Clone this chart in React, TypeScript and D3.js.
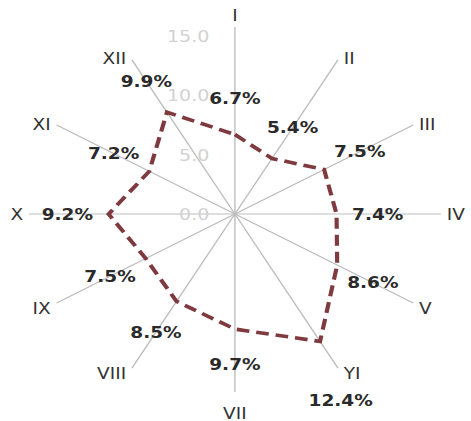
import React from 'react';
import * as d3 from 'd3';

// axis names as printed in the source (note "YI")
const axes = ['I', 'II', 'III', 'IV', 'V', 'YI', 'VII', 'VIII', 'IX', 'X', 'XI', 'XII'];
const values = [6.7, 5.4, 7.5, 7.4, 8.6, 12.4, 9.7, 8.5, 7.5, 9.2, 7.2, 9.9];
const gridTicks = [0, 5, 10, 15];

const W = 471;
const H = 421;
// the source image is stretched horizontally, so draw in a narrower box and let it stretch
const VW = 407;
const cx = 203;
const cy = 214;

export default function App() {
  const r = d3.scaleLinear().domain([0, 15]).range([0, 178]);
  const angle = d3.scaleLinear().domain([0, axes.length]).range([0, 2 * Math.PI]);

  const pt = (i: number, v: number) => {
    const a = angle(i);
    return [cx + r(v) * Math.sin(a), cy - r(v) * Math.cos(a)];
  };

  const line = d3.lineRadial<number>()
    .angle((_, i) => angle(i))
    .radius(d => r(d))
    .curve(d3.curveLinearClosed);

  const font = "'DejaVu Sans', Verdana, sans-serif";

  return (
    <svg
      width={W}
      height={H}
      viewBox={`0 0 ${VW} ${H}`}
      preserveAspectRatio="none"
      style={{ position: 'absolute', left: 0, top: 0, background: '#fff' }}
    >
      {/* spokes */}
      {axes.map((name, i) => {
        const [x, y] = pt(i, i === 0 ? 15.75 : 15);
        return <line key={name} x1={cx} y1={cy} x2={x} y2={y} stroke="#bdbdbd" strokeWidth={1.2} />;
      })}

      {/* scale labels */}
      {gridTicks.map(t => (
        <text
          key={t}
          x={cx - 22}
          y={cy - r(t)}
          textAnchor="end"
          dominantBaseline="central"
          fontFamily={font}
          fontSize={16.5}
          fill="#d2d2d2"
        >
          {t.toFixed(1)}
        </text>
      ))}

      {/* series */}
      <path
        d={line(values) || ''}
        transform={`translate(${cx},${cy})`}
        fill="none"
        stroke="#7f3a40"
        strokeWidth={3.6}
        strokeDasharray="11,6"
        strokeLinejoin="miter"
      />

      {/* axis labels */}
      {axes.map((name, i) => {
        const a = angle(i);
        const s = Math.sin(a);
        const c = Math.cos(a);
        const [x, y] = pt(i, 15);
        let anchor = 'middle';
        let tx = x;
        let ty = y;
        if (Math.abs(s) < 1e-6) {
          ty = y - Math.sign(c) * 21;
        } else {
          anchor = s > 0 ? 'start' : 'end';
          tx = x + Math.sign(s) * 5;
          ty = y + (Math.abs(c) < 1e-6 ? 0 : c < 0 ? 5 : -1);
        }
        return (
          <text
            key={name}
            x={tx}
            y={ty}
            textAnchor={anchor}
            dominantBaseline="central"
            fontFamily={font}
            fontSize={16}
            fill="#333"
          >
            {name}
          </text>
        );
      })}

      {/* value labels */}
      {values.map((v, i) => {
        const [x, y] = pt(i, v + 3);
        // VI's label is pushed below its axis name in the source
        const dy = i === 5 ? 28 : 0;
        return (
          <text
            key={i}
            x={x}
            y={y + dy}
            textAnchor="middle"
            dominantBaseline="central"
            fontFamily={font}
            fontSize={16}
            fontWeight="bold"
            fill="#2a2a2a"
          >
            {`${v.toFixed(1)}%`}
          </text>
        );
      })}
    </svg>
  );
}
